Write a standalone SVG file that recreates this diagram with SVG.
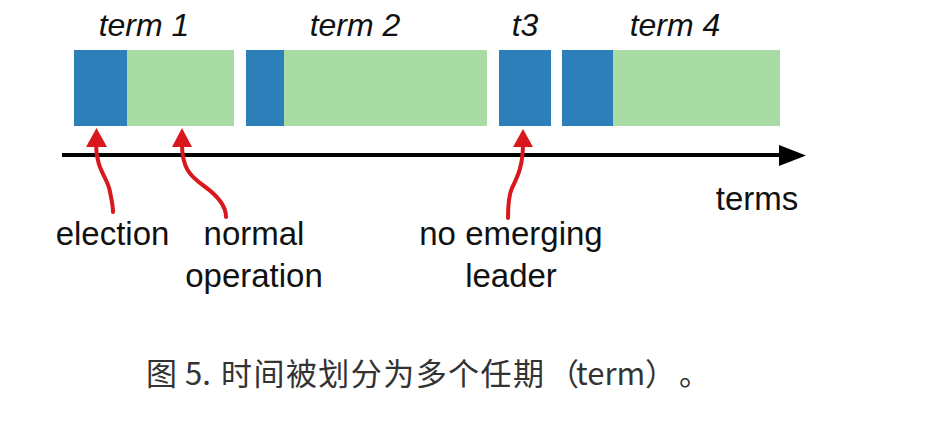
<svg xmlns="http://www.w3.org/2000/svg" width="940" height="436" viewBox="0 0 940 436">
<defs>
<style>
.el{fill:#2c7fb8}
.no{fill:#a8dca4}
.lbl{font-family:"Liberation Sans",Arial,sans-serif;font-size:33px;fill:#111;text-anchor:middle}
.it{font-style:italic;font-size:32px}
.red{fill:none;stroke:#d8181c;stroke-width:4;stroke-linecap:round}
.cap{font-family:"Noto Sans CJK SC","Noto Sans",sans-serif;font-size:31px;fill:#333}
</style>
</defs>
<rect width="940" height="436" fill="#fff"/>
<g id="term1">
<rect class="el" x="74" y="50" width="53" height="76"/>
<rect class="no" x="127" y="50" width="107" height="76"/>
<text class="lbl it" x="144" y="36">term 1</text>
</g>
<g id="term2">
<rect class="el" x="246" y="50" width="38" height="76"/>
<rect class="no" x="284" y="50" width="203" height="76"/>
<text class="lbl it" x="355" y="36">term 2</text>
</g>
<g id="term3">
<rect class="el" x="499" y="50" width="52" height="76"/>
<text class="lbl it" x="525" y="36">t3</text>
</g>
<g id="term4">
<rect class="el" x="562" y="50" width="51" height="76"/>
<rect class="no" x="613" y="50" width="167" height="76"/>
<text class="lbl it" x="675" y="36">term 4</text>
</g>
<g id="axis">
<line x1="62" y1="155" x2="782" y2="155" stroke="#000" stroke-width="4"/>
<polygon points="779,145 806,155.5 779,166" fill="#000"/>
<text class="lbl" x="757" y="210">terms</text>
</g>
<g id="connectors">
<path class="red" d="M96,144 C96,170 108,178 110,192 C112,202 113,206 113,212"/>
<polygon points="86,147 96.5,128 107,147" fill="#d8181c"/>
<path class="red" d="M182,144 C182,168 190,176 204,186 C218,196 226,206 226,217"/>
<polygon points="172,147 182,128 192,147" fill="#d8181c"/>
<path class="red" d="M523,144 C523,165 518,176 512,188 C508,197 508,208 508,218"/>
<polygon points="513,147 523,129 533,147" fill="#d8181c"/>
</g>
<g id="labels">
<text class="lbl" x="112.5" y="245">election</text>
<text class="lbl" x="254" y="245">normal</text>
<text class="lbl" x="254" y="287">operation</text>
<text class="lbl" x="511" y="245">no emerging</text>
<text class="lbl" x="511" y="287">leader</text>
</g>
<g id="caption">
<text class="cap" y="385"><tspan x="146">图</tspan><tspan x="185">5.</tspan></text>
<text class="cap" x="221" y="385" textLength="323" lengthAdjust="spacing">时间被划分为多个任期</text>
<text class="cap" y="385"><tspan x="548">（</tspan><tspan x="576">term</tspan><tspan x="645">）</tspan><tspan x="679">。</tspan></text>
</g>
</svg>
